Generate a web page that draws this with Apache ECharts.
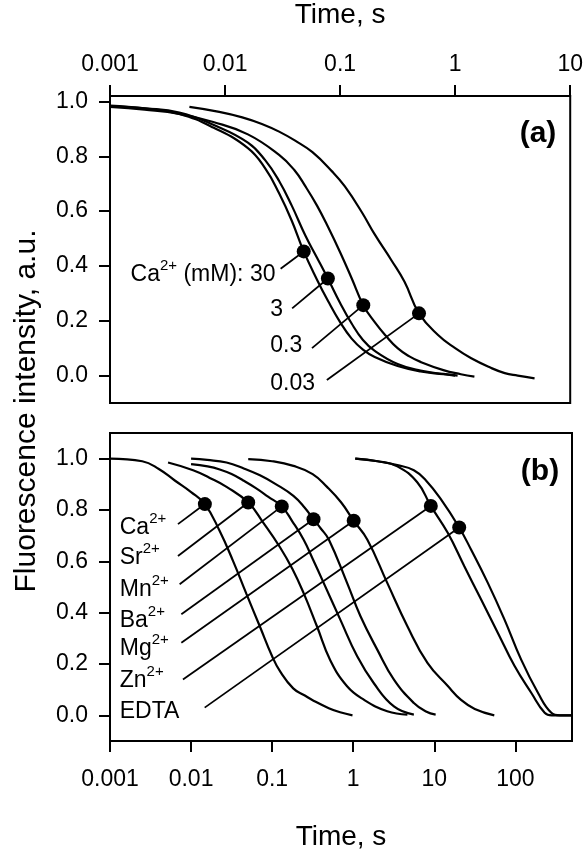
<!DOCTYPE html>
<html><head><meta charset="utf-8">
<script src="https://cdn.jsdelivr.net/npm/echarts@6/dist/echarts.min.js"></script>
<style>html,body{margin:0;padding:0;background:#fff}#c{width:586px;height:852px}</style>
</head><body><div id="c"></div>
<script>
// ---------------- tick values ----------------
const xTicksA = [0.001, 0.01, 0.1, 1, 10];
const xTicksB = [0.001, 0.01, 0.1, 1, 10, 100];
const yTicks = [0, 0.2, 0.4, 0.6, 0.8, 1.0];

// ---------------- panel (a): Ca2+ concentrations ----------------
const a30_t = [0.001,0.002,0.004,0.0079,0.0158,0.0224,0.0295,0.038,0.0483,0.063,0.079,0.1,0.126,0.158,0.2,0.316,0.5,0.79,1.0];
const a30_v = [0.985,0.975,0.955,0.905,0.83,0.755,0.665,0.565,0.453,0.35,0.27,0.195,0.135,0.095,0.068,0.035,0.015,0.005,0.0];
const a3_t = [0.001,0.002,0.004,0.0079,0.0158,0.0224,0.0295,0.038,0.05,0.063,0.0783,0.1,0.126,0.158,0.2,0.316,0.5,0.79,1.05];
const a3_v = [0.983,0.975,0.96,0.915,0.85,0.785,0.71,0.62,0.51,0.43,0.354,0.265,0.19,0.13,0.09,0.042,0.018,0.006,0.0];
const a03_t = [0.001,0.002,0.004,0.0079,0.0158,0.0295,0.04,0.05,0.063,0.079,0.1,0.126,0.159,0.2,0.25,0.316,0.4,0.5,0.79,1.12,1.47];
const a03_v = [0.98,0.97,0.955,0.925,0.88,0.805,0.75,0.69,0.62,0.54,0.45,0.355,0.257,0.195,0.145,0.10,0.07,0.05,0.02,0.005,-0.004];
const a003_t = [0.0049,0.0089,0.0141,0.0209,0.0295,0.0407,0.0575,0.0851,0.11,0.155,0.2,0.28,0.363,0.485,0.71,1.0,1.38,2.0,2.7,3.5,4.9];
const a003_v = [0.98,0.962,0.942,0.918,0.89,0.857,0.815,0.745,0.69,0.595,0.515,0.42,0.342,0.227,0.148,0.10,0.063,0.03,0.009,0.0,-0.01];

const dotsA_t = [0.0483, 0.0783, 0.159, 0.485];
const dotsA_v = [0.453, 0.354, 0.257, 0.227];
// leader line start (label side), data units
const leadA_t = [0.0304, 0.0383, 0.057, 0.0767];
const leadA_v = [0.39, 0.245, 0.10, -0.016];
const labelsA = ['{b|Ca}{s|2+}{b| (mM): 30}', '{b|3}', '{b|0.3}', '{b|0.03}'];
const labelA_t = [0.0277, 0.0245, 0.0245, 0.0245];
const labelA_v = [0.37, 0.239, 0.11, -0.03];

// ---------------- panel (b): cations ----------------
const bCa_t = [0.001,0.0025,0.004,0.0063,0.01,0.0148,0.0224,0.0331,0.0479,0.0708,0.1,0.126,0.182,0.25,0.32,0.5,0.69,0.98];
const bCa_v = [1.0,0.99,0.96,0.915,0.87,0.823,0.72,0.60,0.475,0.345,0.23,0.17,0.105,0.078,0.058,0.028,0.012,0.0];
const bSr_t = [0.0052,0.0106,0.017,0.0274,0.0507,0.078,0.125,0.178,0.244,0.357,0.521,0.84,1.35,2.63,4.66];
const bSr_v = [0.985,0.955,0.925,0.89,0.829,0.75,0.655,0.57,0.477,0.347,0.215,0.113,0.061,0.016,0.003];
const bMn_t = [0.01,0.016,0.0226,0.0316,0.044,0.063,0.089,0.1315,0.178,0.244,0.316,0.432,0.693,1.12,1.79,3.18,5.6];
const bMn_v = [0.979,0.97,0.958,0.94,0.915,0.885,0.852,0.814,0.755,0.685,0.61,0.516,0.373,0.23,0.126,0.035,0.003];
const bBa_t = [0.01,0.0158,0.0274,0.0447,0.0708,0.112,0.183,0.251,0.324,0.398,0.5,0.84,1.23,1.98,3.18,5.6,7.9,10.4];
const bBa_v = [1.0,0.995,0.985,0.962,0.935,0.9,0.855,0.81,0.764,0.728,0.685,0.516,0.386,0.256,0.139,0.048,0.015,0.003];
const bMg_t = [0.0507,0.1,0.183,0.316,0.475,0.708,1.014,1.49,2.63,4.66,8.24,14.6,21.4,31.6,55];
const bMg_v = [0.998,0.99,0.972,0.94,0.89,0.83,0.758,0.685,0.516,0.347,0.204,0.115,0.06,0.025,0.0];
const bZn_t = [1.06,2.0,3.5,6.2,9.06,14.6,23.4,37.7,60.7,97.5,157,230,282,500];
const bZn_v = [1.0,0.99,0.97,0.907,0.816,0.712,0.582,0.452,0.322,0.193,0.088,0.01,0.0,0.0];
const bEDTA_t = [1.06,2.0,3.5,5.6,7.9,12.05,20.3,28.3,45.6,73.3,118,190,278,355,500];
const bEDTA_v = [1.0,0.99,0.975,0.955,0.915,0.842,0.732,0.647,0.517,0.374,0.217,0.088,0.01,0.0,0.0];

const dotsB_t = [0.0148, 0.0507, 0.1315, 0.324, 1.014, 9.06, 20.3];
const dotsB_v = [0.823, 0.829, 0.814, 0.764, 0.758, 0.816, 0.732];
const leadB_t = [0.00689, 0.00689, 0.00723, 0.00759, 0.00759, 0.00794, 0.01472];
const leadB_v = [0.745, 0.621, 0.511, 0.394, 0.283, 0.14, 0.03];
const labelsB = ['{b|Ca}{s|2+}', '{b|Sr}{s|2+}', '{b|Mn}{s|2+}', '{b|Ba}{s|2+}', '{b|Mg}{s|2+}', '{b|Zn}{s|2+}', '{b|EDTA}'];
const labelB_t = [0.0013, 0.0013, 0.0013, 0.0013, 0.0013, 0.0013, 0.0013];
const labelB_v = [0.732, 0.615, 0.49, 0.37, 0.26, 0.135, 0.016];

// ---------------- build ----------------
const FONT = '"Liberation Sans", Arial, Helvetica, sans-serif';
const zip = (t, v) => t.map((x, i) => [x, v[i]]);
const rich = {
  b: { fontSize: 23, fontFamily: FONT, color: '#000', lineHeight: 32 },
  s: { fontSize: 15, fontFamily: FONT, color: '#000', lineHeight: 15, verticalAlign: 'top' }
};
const fmtLog = v => v >= 1 ? String(Math.round(v)) : String(+v.toPrecision(3));

const series = [];
function curve(t, v, gi) {
  series.push({ type: 'line', xAxisIndex: gi, yAxisIndex: gi, data: zip(t, v), showSymbol: false,
    smooth: 0.45, lineStyle: { color: '#000', width: 2.2 }, z: 3, silent: true });
}
[[a30_t,a30_v],[a3_t,a3_v],[a03_t,a03_v],[a003_t,a003_v]].forEach(p => curve(p[0], p[1], 0));
[[bCa_t,bCa_v],[bSr_t,bSr_v],[bMn_t,bMn_v],[bBa_t,bBa_v],[bMg_t,bMg_v],[bZn_t,bZn_v],[bEDTA_t,bEDTA_v]].forEach(p => curve(p[0], p[1], 1));

function leaders(t0, v0, t1, v1, gi) {
  t0.forEach((_, i) => series.push({ type: 'line', xAxisIndex: gi, yAxisIndex: gi, showSymbol: false,
    data: [[t0[i], v0[i]], [t1[i], v1[i]]], lineStyle: { color: '#000', width: 1.8 }, z: 3, silent: true }));
}
leaders(leadA_t, leadA_v, dotsA_t, dotsA_v, 0);
leaders(leadB_t, leadB_v, dotsB_t, dotsB_v, 1);

function dots(t, v, gi) {
  series.push({ type: 'scatter', xAxisIndex: gi, yAxisIndex: gi, data: zip(t, v), symbolSize: 14,
    itemStyle: { color: '#000', opacity: 1 }, z: 5, silent: true });
}
dots(dotsA_t, dotsA_v, 0);
dots(dotsB_t, dotsB_v, 1);

function labels(t, v, txt, gi, posFn) {
  t.forEach((_, i) => series.push({ type: 'scatter', xAxisIndex: gi, yAxisIndex: gi, data: [[t[i], v[i]]],
    symbolSize: 1, itemStyle: { color: 'rgba(255,255,255,0)', opacity: 1 }, silent: true, z: 6,
    label: { show: true, position: posFn(i), distance: 0, color: '#000', opacity: 1, formatter: txt[i], rich: rich } }));
}
labels(labelA_t, labelA_v, labelsA, 0, i => i === 0 ? 'left' : 'right');
labels(labelB_t, labelB_v, labelsB, 1, () => 'right');

const axisLine = { show: true, onZero: false, lineStyle: { color: '#000', width: 2 } };
const tickStyle = { color: '#000', width: 2 };
function xAxis(gi, max, pos, ticks, nameGap, margin) {
  return { gridIndex: gi, type: 'log', logBase: 10, min: 0.001, max: max, position: pos,
    axisLine: axisLine,
    axisTick: { show: true, inside: false, length: 11, lineStyle: tickStyle, customValues: ticks },
    axisLabel: { show: true, fontSize: 23, fontFamily: FONT, color: '#000', margin: margin, customValues: ticks, formatter: fmtLog },
    minorTick: { show: false }, splitLine: { show: false },
    name: 'Time, s', nameLocation: 'middle', nameGap: nameGap,
    nameTextStyle: { fontSize: 28, fontFamily: FONT, color: '#000' } };
}
function yAxis(gi, max) {
  return { gridIndex: gi, type: 'value', min: -0.1, max: max,
    axisLine: axisLine,
    axisTick: { show: true, inside: false, length: 11, lineStyle: tickStyle, customValues: yTicks },
    axisLabel: { show: true, fontSize: 23, fontFamily: FONT, color: '#000', margin: 22, customValues: yTicks, formatter: v => v.toFixed(1) },
    splitLine: { show: false } };
}

const chart = echarts.init(document.getElementById('c'), null, { renderer: 'canvas' });
chart.setOption({
  animation: false,
  backgroundColor: '#fff',
  grid: [
    { left: 110, top: 95, width: 462, height: 308, show: true, borderColor: '#000', borderWidth: 2, containLabel: false },
    { left: 110, top: 433, width: 462, height: 308, show: true, borderColor: '#000', borderWidth: 2, containLabel: false }
  ],
  xAxis: [ xAxis(0, 10, 'top', xTicksA, 67, 20), xAxis(1, 500, 'bottom', xTicksB, 82, 27) ],
  yAxis: [ yAxis(0, 1.02), yAxis(1, 1.1) ],
  graphic: [
    { type: 'text', x: 538, y: 134, style: { text: '(a)', font: 'bold 30px ' + FONT, fill: '#000', textAlign: 'center', textVerticalAlign: 'middle' } },
    { type: 'text', x: 540, y: 472, style: { text: '(b)', font: 'bold 30px ' + FONT, fill: '#000', textAlign: 'center', textVerticalAlign: 'middle' } },
    { type: 'text', x: 27, y: 411, rotation: Math.PI / 2, style: { text: 'Fluorescence intensity, a.u.', font: '30px ' + FONT, fill: '#000', textAlign: 'center', textVerticalAlign: 'middle' } }
  ],
  series: series
});
</script></body></html>
